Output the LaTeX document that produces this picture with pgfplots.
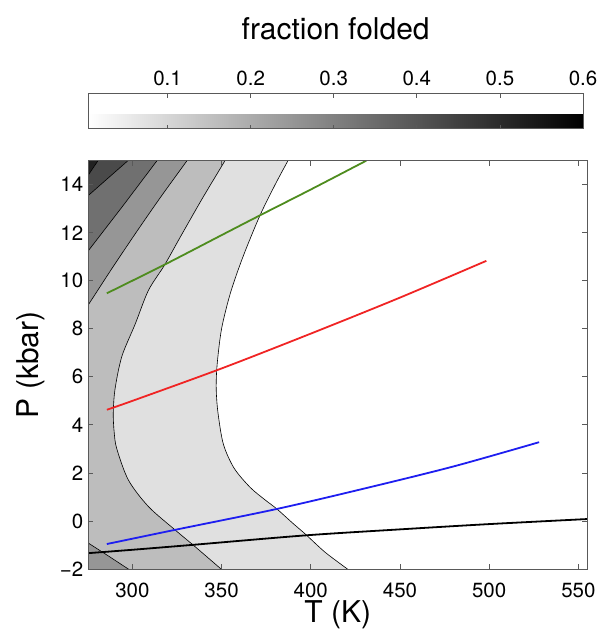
\documentclass[border=0pt]{standalone}
\usepackage{pgfplots}
\pgfplotsset{compat=1.18}
\usepackage{fontspec}
\setmainfont{TeX Gyre Heros}

% contour fill levels (white -> black)
\definecolor{lev1}{gray}{0.88}
\definecolor{lev2}{gray}{0.74}
\definecolor{lev3}{gray}{0.59}
\definecolor{lev4}{gray}{0.44}
\definecolor{lev5}{gray}{0.29}
\definecolor{lev6}{gray}{0.13}
\definecolor{lgreen}{RGB}{78,140,30}
\definecolor{lred}{RGB}{240,36,36}
\definecolor{lblue}{RGB}{30,30,240}
\definecolor{frame}{gray}{0.35}

\begin{document}
\begin{tikzpicture}
\path[use as bounding box] (-88.3pt,-65pt) rectangle (518.7pt,569pt);
\begin{axis}[
    at={(0pt,0pt)}, anchor=south west,
    width=499pt, height=408.3pt, scale only axis,
    xmin=275.3, xmax=555, ymin=-2, ymax=15,
    xtick={300,350,400,450,500,550},
    xticklabels={300,350,400,450,500,550},
    ytick={-2,0,2,4,6,8,10,12,14},
    yticklabels={−2,0,2,4,6,8,10,12,14},
    tick align=inside, xtick pos=both, ytick pos=both,
    major tick length=5pt,
    tick style={frame, line width=0.8pt},
    axis line style={frame, line width=0.9pt},
    ticklabel style={font=\fontsize{20.5}{24}\selectfont},
    xticklabel style={yshift=-10pt},
    yticklabel style={xshift=-1.5pt},
    xlabel={T (K)}, ylabel={P (kbar)},
    every axis x label/.style={at={(axis description cs:0.5,-0.1305)}, anchor=base,
        font=\fontsize{30}{36}\selectfont},
    every axis y label/.style={at={(axis description cs:-0.1,0.5)}, rotate=90, anchor=base,
        font=\fontsize{30}{36}\selectfont},
    axis on top,
    colormap={whiteblack}{gray(0cm)=(1); gray(1cm)=(0)},
    point meta min=0.0046, point meta max=0.6,
    colorbar horizontal,
    colorbar style={
        at={(parent axis.north west)}, anchor=south west, yshift=40.7pt,
        scale only axis, width=494.7pt, height=35pt,
        xtick={0.1,0.2,0.3,0.4,0.5,0.6},
        xticklabels={0.1,0.2,0.3,0.4,0.5,0.6},
        xticklabel pos=upper, xtick pos=both,
        ytick=\empty,
        tick align=inside, major tick length=4pt,
        tick style={frame, line width=0.8pt},
        axis line style={frame, line width=0.9pt},
        xticklabel style={font=\fontsize{20.5}{24}\selectfont, yshift=4pt},
        title={fraction folded},
        title style={font=\fontsize{30}{36}\selectfont, at={(0.5,1)}, anchor=base, yshift=48pt},
    },
]
% filled contour regions, outer (lowest level) first
\addplot[fill=lev1, draw=black, line width=0.6pt, smooth, tension=0.5] coordinates {
    (390.8,15.5) (387.2,15) (380,14) (371.4,12.7) (362,11) (355,9.5)
    (350,8) (347.5,6.5) (347,5.5) (348,4.5) (351,3.2) (357,2.2)
    (366,1.4) (374,0.9) (381,0.5) (390,-0.1) (397,-0.55) (408,-1.3)
    (420.5,-2) (429.4,-2.5) (260,-2.5) (260,15.5)
} -- cycle;
\addplot[fill=lev2, draw=black, line width=0.6pt, smooth, tension=0.5] coordinates {
    (355.8,15.5) (351.9,15) (339,13.4) (326.7,11.8) (318,10.65) (309,9.6)
    (301.6,8.2) (294.1,6.85) (290.3,5.5) (289.3,4.5) (289.8,3.7)
    (291.3,3.0) (297.8,1.7) (309,0.6) (323.9,-0.37) (335,-1.06)
    (349.7,-2) (357.5,-2.5) (260,-2.5) (260,15.5)
} -- cycle;
\addplot[fill=lev3, draw=black, line width=0.6pt, smooth, tension=0.5] coordinates {
    (335.2,15.5) (330.6,15) (316,13.5) (302,12.0) (288,10.45)
    (275.3,9.0) (260,7.3) (260,15.5)
} -- cycle;
\addplot[fill=lev3, draw=black, line width=0.6pt] coordinates {
    (260,-0.17) (275.3,-0.92) (286,-1.43) (297.7,-2) (308,-2.5) (260,-2.5)
} -- cycle;
\addplot[fill=lev4, draw=black, line width=0.6pt] coordinates {
    (318.9,15.5) (313.8,15) (294.5,13.1) (275.3,11.25) (260,9.76) (260,15.5)
} -- cycle;
\addplot[fill=lev5, draw=black, line width=0.6pt] coordinates {
    (305.5,15.5) (297.5,15) (286,14.25) (275.3,13.55) (260,12.6) (260,15.5)
} -- cycle;
\addplot[fill=lev6, draw=black, line width=0.6pt] coordinates {
    (285.2,15.5) (280.7,15) (275.3,14.4) (260,12.7) (260,15.5)
} -- cycle;

% lines
\addplot[lgreen, line width=1.8pt, smooth] coordinates {
    (285.7,9.48) (318,10.67) (350,11.9) (371.4,12.72) (400,13.8) (431.1,15)
};
\addplot[lred, line width=1.8pt, smooth] coordinates {
    (285.7,4.63) (300,5.0) (350,6.35) (400,7.8) (450,9.3) (498.4,10.83)
};
\addplot[lblue, line width=1.8pt, smooth] coordinates {
    (285.7,-0.96) (323.9,-0.37) (381,0.5) (430,1.35) (480,2.27) (528,3.28)
};
\addplot[black, line width=1.8pt, smooth] coordinates {
    (275.3,-1.34) (300,-1.2) (333,-1.0) (397,-0.6) (450,-0.35) (500,-0.13) (555,0.08)
};
\end{axis}
\end{tikzpicture}
\end{document}
